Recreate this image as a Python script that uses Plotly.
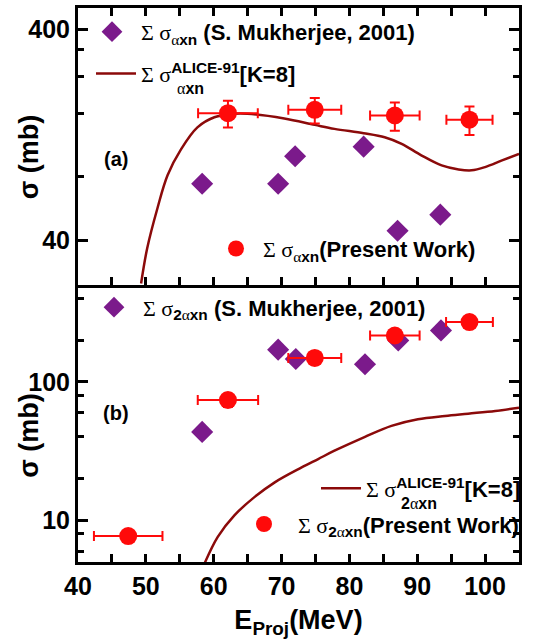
import plotly.graph_objects as go

# ---------------- data ----------------
# Panel (a): alpha-xn
muk_a_E = [58.3, 69.5, 72.0, 82.1, 87.1, 93.4]
muk_a_sig = [74, 74, 100, 111, 44.3, 52.8]

pw_a_E = [62.1, 74.9, 86.7, 97.7]
pw_a_sig = [160, 166, 156, 149]
pw_a_dE = [4.4, 3.9, 3.65, 3.4]
pw_a_dsig = [23, 23, 24, 23]

alice_a_E = [49.3, 50.2, 51.7, 53.2, 55.2, 57.6, 60.1, 63.0, 65.0, 70.4, 74.9, 77.8,
             82.1, 85.2, 87.7, 90.6, 93.6, 96.1, 98.0, 100.0, 102.5, 105.0]
alice_a_sig = [24.9, 36.6, 56.5, 81.2, 108, 137, 153, 158.8, 158.8, 151, 140.8, 134.8,
               128.6, 123, 114.5, 101, 90.4, 86.5, 85.7, 88.8, 95.5, 102.6]

# Panel (b): 2alpha-xn
muk_b_E = [58.3, 69.5, 72.1, 82.3, 87.2, 93.5]
muk_b_sig = [43.5, 170.7, 146.3, 133.9, 199, 235]

pw_b_E = [47.4, 62.1, 74.9, 86.7, 97.7]
pw_b_sig = [7.7, 73.9, 148.7, 216, 270]
pw_b_dE = [5.05, 4.45, 3.9, 3.65, 3.45]
pw_b_dsig = [0.6, 8, 15, 18, 22]

alice_b_E = [58.7, 60.6, 63.05, 66.0, 69.0, 72.9, 75.4, 77.8, 82.3, 86.2, 90.1, 94.1,
             97.5, 101.5, 105.0]
alice_b_sig = [4.94, 7.6, 10.86, 14.7, 18.8, 24.0, 27.7, 31.8, 40.1, 48.1, 53.7, 56.7,
               58.9, 61.6, 65.1]

x_ticks = [40, 50, 60, 70, 80, 90, 100]
ya_major = [40, 400]
ya_minor = [80, 160, 240, 320]
yb_major = [10, 100]
yb_minor = [6, 8, 20, 40, 60, 80, 200, 400]

# ---------------- style ----------------
PURPLE = "#7B1A8B"
RED = "#FF0A0A"
DARK = "#8B0A0A"
FONT = "Liberation Sans"
SER = "Liberation Serif"


def S(t):
    return f'<span style="font-family:{SER}">{t}</span>'


fig = go.Figure()

# panel (a)
fig.add_trace(go.Scatter(x=alice_a_E, y=alice_a_sig, mode="lines",
                         line=dict(color=DARK, width=2.5, shape="spline"),
                         name=S("Σ σ") + "<sup><b>ALICE-91</b></sup><b>[K=8]</b>",
                         xaxis="x", yaxis="y", legend="legend2"))
fig.add_trace(go.Scatter(x=muk_a_E, y=muk_a_sig, mode="markers",
                         marker=dict(symbol="diamond", size=17, color=PURPLE),
                         name=S("Σ σ") + "<sub>" + S("α") + "<b>xn</b></sub> <b>(S. Mukherjee, 2001)</b>",
                         xaxis="x", yaxis="y", legend="legend"))
fig.add_trace(go.Scatter(x=pw_a_E, y=pw_a_sig, mode="markers",
                         marker=dict(symbol="circle", size=18, color=RED),
                         error_x=dict(type="data", array=pw_a_dE, color=RED, thickness=2, width=5),
                         error_y=dict(type="data", array=pw_a_dsig, color=RED, thickness=2, width=5),
                         name=S("Σ σ") + "<sub>" + S("α") + "<b>xn</b></sub><b>(Present Work)</b>",
                         xaxis="x", yaxis="y", legend="legend3"))

# panel (b)
fig.add_trace(go.Scatter(x=alice_b_E, y=alice_b_sig, mode="lines",
                         line=dict(color=DARK, width=2.5, shape="spline"),
                         name=S("Σ σ") + "<sup><b>ALICE-91</b></sup><b>[K=8]</b>",
                         xaxis="x2", yaxis="y2", legend="legend5"))
fig.add_trace(go.Scatter(x=muk_b_E, y=muk_b_sig, mode="markers",
                         marker=dict(symbol="diamond", size=17, color=PURPLE),
                         name=S("Σ σ") + "<sub><b>2</b>" + S("α") + "<b>xn</b></sub> <b>(S. Mukherjee, 2001)</b>",
                         xaxis="x2", yaxis="y2", legend="legend4"))
fig.add_trace(go.Scatter(x=pw_b_E, y=pw_b_sig, mode="markers",
                         marker=dict(symbol="circle", size=18, color=RED),
                         error_x=dict(type="data", array=pw_b_dE, color=RED, thickness=2, width=5),
                         error_y=dict(type="data", array=pw_b_dsig, color=RED, thickness=2, width=5),
                         name=S("Σ σ") + "<sub><b>2</b>" + S("α") + "<b>xn</b></sub><b>(Present Work)</b>",
                         xaxis="x2", yaxis="y2", legend="legend6"))

W, H = 541, 644
ml, mr, mt, mb = 78, 22, 5, 82
pw, ph = W - ml - mr, H - mt - mb


def px(xp):
    return (xp - ml) / pw


def py(yp):
    return (H - mb - yp) / ph


def leg(x, y, w):
    return dict(x=px(x), y=py(y), bgcolor="rgba(0,0,0,0)", borderwidth=0,
                xanchor="left", yanchor="middle",
                font=dict(family=FONT, size=22, color="black"), itemwidth=w,
                tracegroupgap=0)


axis_common = dict(showline=True, linewidth=3, linecolor="black",
                   ticks="inside", tickcolor="black", tickwidth=2.5,
                   showgrid=False, zeroline=False,
                   tickfont=dict(family=FONT, size=25, color="black"))

xminor = dict(dtick=5, tick0=0, ticks="inside", ticklen=8, tickwidth=2.5, tickcolor="black")

fig.update_layout(
    width=W, height=H,
    margin=dict(l=ml, r=mr, t=mt, b=mb),
    paper_bgcolor="white", plot_bgcolor="white",
    showlegend=True,
    xaxis=dict(domain=[0, 1], range=[40, 105], anchor="y", matches="x2", mirror="ticks",
               tickvals=x_ticks, showticklabels=False, ticklen=8, minor=xminor,
               **axis_common),
    yaxis=dict(domain=[0.5, 1], type="log", range=[1.389, 2.703], anchor="x", mirror="ticks",
               tickvals=ya_major, ticktext=["<b>40</b>", "<b>400</b>"], ticklen=10,
               minor=dict(tickvals=ya_minor, ticks="inside", ticklen=6, tickwidth=2.5, tickcolor="black"),
               **axis_common),
    xaxis2=dict(domain=[0, 1], range=[40, 105], anchor="y2", mirror=False,
                tickvals=x_ticks, ticktext=[f"<b>{v}</b>" for v in x_ticks], ticklen=8,
                minor=xminor,
                title=dict(text="<b>E<sub>Proj</sub>(MeV)</b>",
                           font=dict(family=FONT, size=27, color="black"), standoff=12),
                **axis_common),
    yaxis2=dict(domain=[0, 0.5], type="log", range=[0.699, 2.699], anchor="x2", mirror="ticks",
                tickvals=yb_major, ticktext=["<b>10</b>", "<b>100</b>"], ticklen=10,
                minor=dict(tickvals=yb_minor, ticks="inside", ticklen=6, tickwidth=2.5, tickcolor="black"),
                **axis_common),
    legend=leg(83, 29, 48),
    legend2=leg(91, 71, 40),
    legend3=leg(209, 247, 44),
    legend4=leg(85, 306, 48),
    legend5=leg(316, 488, 40),
    legend6=leg(230, 524, 58),
    annotations=[
        dict(text="<b>(a)</b>", x=px(116), y=py(157), xref="paper", yref="paper",
             xanchor="center", yanchor="middle",
             showarrow=False, font=dict(family=FONT, size=20, color="black")),
        dict(text="<b>(b)</b>", x=px(116), y=py(412), xref="paper", yref="paper",
             xanchor="center", yanchor="middle",
             showarrow=False, font=dict(family=FONT, size=20, color="black")),
        dict(text="<b>σ (mb)</b>", x=px(29), y=py(155), xref="paper", yref="paper",
             xanchor="center", yanchor="middle", textangle=-90,
             showarrow=False, font=dict(family=FONT, size=27, color="black")),
        dict(text="<b>σ (mb)</b>", x=px(29), y=py(435), xref="paper", yref="paper",
             xanchor="center", yanchor="middle", textangle=-90,
             showarrow=False, font=dict(family=FONT, size=27, color="black")),
        dict(text=S("α") + "<b>xn</b>", x=px(175), y=py(86), xref="paper", yref="paper",
             xanchor="left", yanchor="middle",
             showarrow=False, font=dict(family=FONT, size=16, color="black")),
        dict(text="<b>2</b>" + S("α") + "<b>xn</b>", x=px(399), y=py(503), xref="paper", yref="paper",
             xanchor="left", yanchor="middle",
             showarrow=False, font=dict(family=FONT, size=16, color="black")),
    ],
)

fig.write_html("out.html")
